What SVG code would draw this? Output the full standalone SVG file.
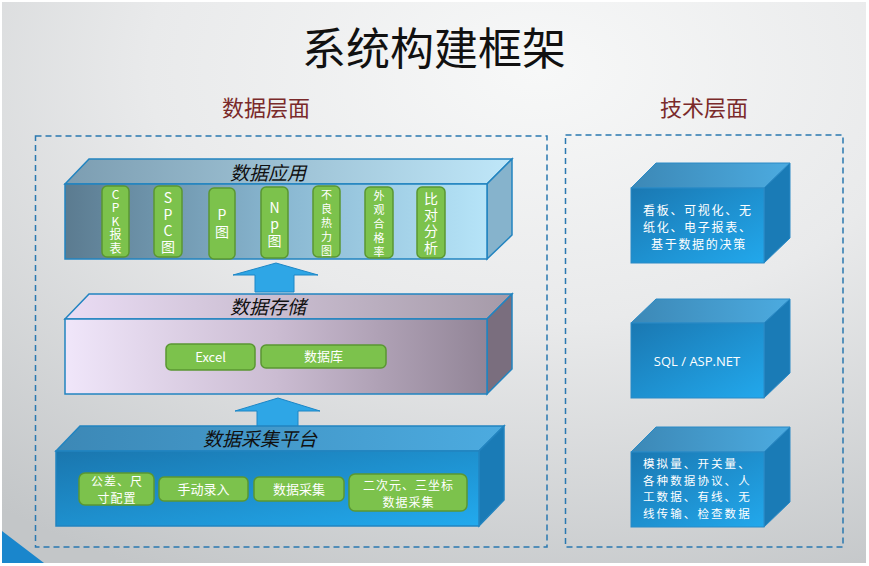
<svg xmlns="http://www.w3.org/2000/svg" width="869" height="566" viewBox="0 0 869 566">
<defs>
<radialGradient id="bg" cx="0.62" cy="0.12" r="1.0" fx="0.62" fy="0.12">
<stop offset="0" stop-color="#f7f8f8"/>
<stop offset="0.45" stop-color="#e9eaeb"/>
<stop offset="1" stop-color="#c3c6c8"/>
</radialGradient>
<linearGradient id="g1front" x1="0" y1="0" x2="1" y2="0">
<stop offset="0" stop-color="#5b7b90"/>
<stop offset="0.5" stop-color="#88b6d0"/>
<stop offset="1" stop-color="#b6e4f8"/>
</linearGradient>
<linearGradient id="g1top" x1="0" y1="0" x2="1" y2="0">
<stop offset="0" stop-color="#7c9db1"/>
<stop offset="1" stop-color="#bfe7f9"/>
</linearGradient>
<linearGradient id="g2front" x1="0" y1="0" x2="1" y2="0">
<stop offset="0" stop-color="#f0e6fa"/>
<stop offset="0.5" stop-color="#cbbcd2"/>
<stop offset="1" stop-color="#928597"/>
</linearGradient>
<linearGradient id="g2top" x1="0" y1="0" x2="1" y2="0">
<stop offset="0" stop-color="#eadcf4"/>
<stop offset="1" stop-color="#a59aa8"/>
</linearGradient>
<linearGradient id="g3front" x1="0" y1="0" x2="1" y2="1">
<stop offset="0" stop-color="#1a76ae"/>
<stop offset="1" stop-color="#22aaee"/>
</linearGradient>
<linearGradient id="g3top" x1="0" y1="0" x2="1" y2="0">
<stop offset="0" stop-color="#3c88b6"/>
<stop offset="1" stop-color="#4cabe0"/>
</linearGradient>
<linearGradient id="cfront" x1="0" y1="0" x2="1" y2="1">
<stop offset="0" stop-color="#1a78b2"/>
<stop offset="1" stop-color="#22a8ec"/>
</linearGradient>
</defs>
<style>
.dash{fill:none;stroke:#2a78b0;stroke-width:1.5;stroke-dasharray:6,4}
.edge{stroke:#2284c0;stroke-width:1.5}
.pill{fill:#7cc24c;stroke:#5a9732;stroke-width:1.5}
.pt{fill:#ffffff;font-family:"Noto Sans CJK SC","Noto Sans",sans-serif;text-anchor:middle}
.vt{fill:#ffffff;font-family:"Noto Sans CJK SC",sans-serif;text-anchor:middle;writing-mode:vertical-rl;text-orientation:upright}
.cap{fill:#111;font-family:"Noto Sans CJK SC",sans-serif;font-style:italic;font-size:19px;text-anchor:middle}
.head{fill:#7a2a2a;font-family:"Noto Sans CJK SC",sans-serif;font-size:22px;text-anchor:middle}
.ct{fill:#ffffff;font-family:"Noto Sans CJK SC",sans-serif;font-size:12px;letter-spacing:1.7px}
.arrow{fill:#2ea6e6;stroke:#1c86c6;stroke-width:1}
.cube{stroke:#2a8ac6;stroke-width:1}
</style>
<rect x="0" y="0" width="869" height="566" fill="#ffffff"/>
<rect x="2" y="2" width="864" height="561" fill="url(#bg)"/>
<polygon points="2,531 44,563 2,563" fill="#1a86cc"/>

<text x="434" y="65" font-family="Noto Sans CJK SC,serif" font-size="44" text-anchor="middle" fill="#111">系统构建框架</text>
<text class="head" x="266" y="116">数据层面</text>
<text class="head" x="704" y="116">技术层面</text>

<rect class="dash" x="35.5" y="136" width="511.5" height="411"/>
<rect class="dash" x="565.5" y="135" width="277.5" height="412"/>

<g id="connectors">
<polygon class="arrow" points="276,263 318,275 294,275 294,292 255,292 255,275 233,275"/>
<polygon class="arrow" points="278,398 320,411 298,411 298,428 257,428 257,411 235,411"/>
</g>

<g id="data-app">
<polygon points="65,184 89,159 512,159 487,184" fill="url(#g1top)" class="edge"/>
<polygon points="487,184 512,159 512,235 487,259" fill="#86b3cc" class="edge"/>
<rect x="65" y="184" width="422" height="75" fill="url(#g1front)" class="edge"/>
<text class="cap" x="268" y="180">数据应用</text>
</g>

<g id="pill-cpk"><rect class="pill" x="102" y="186" width="27" height="71" rx="5"/>
<text class="vt" x="115.5" y="222" font-size="12" letter-spacing="1.5">CPK报表</text></g>
<g id="pill-spc"><rect class="pill" x="154" y="186" width="28" height="71" rx="5"/>
<text class="vt" x="168" y="223.5" font-size="14" letter-spacing="2.3">SPC图</text></g>
<g id="pill-p"><rect class="pill" x="209" y="188" width="26" height="71" rx="5"/>
<text class="vt" x="222" y="225" font-size="14" letter-spacing="3">P图</text></g>
<g id="pill-np"><rect class="pill" x="261" y="187" width="27" height="71" rx="5"/>
<text class="vt" x="274.5" y="225" font-size="14" letter-spacing="2.5">Np图</text></g>
<g id="pill-heat"><rect class="pill" x="313" y="186" width="27" height="71" rx="5"/>
<text class="vt" x="326.5" y="224.5" font-size="11" letter-spacing="3">不良热力图</text></g>
<g id="pill-pass"><rect class="pill" x="365" y="187" width="28" height="71" rx="5"/>
<text class="vt" x="379" y="225.5" font-size="11" letter-spacing="3">外观合格率</text></g>
<g id="pill-cmp"><rect class="pill" x="417" y="187" width="28" height="71" rx="5"/>
<text class="vt" x="431" y="224" font-size="14" letter-spacing="2.3">比对分析</text></g>

<g id="data-store">
<polygon points="65,319 89,294 512,294 487,319" fill="url(#g2top)" class="edge"/>
<polygon points="487,319 512,294 512,369 487,394" fill="#7a6e7e" class="edge"/>
<rect x="65" y="319" width="422" height="75" fill="url(#g2front)" class="edge"/>
<text class="cap" x="268" y="314">数据存储</text>
</g>
<g id="pill-excel"><rect class="pill" x="166" y="344" width="89" height="26" rx="5"/>
<text class="pt" font-size="13" x="210.5" y="362">Excel</text></g>
<g id="pill-db"><rect class="pill" x="261" y="345" width="125" height="23" rx="5"/>
<text class="pt" font-size="13" x="323.5" y="361">数据库</text></g>

<g id="data-collect">
<polygon points="56,451 80,426 504,426 479,451" fill="url(#g3top)" class="edge"/>
<polygon points="479,451 504,426 504,500 479,526" fill="#1a7bb6" class="edge"/>
<rect x="56" y="451" width="423" height="75" fill="url(#g3front)" class="edge"/>
<text class="cap" x="260" y="446">数据采集平台</text>
</g>
<g id="pill-tol"><rect class="pill" x="79" y="473" width="75" height="32" rx="6"/>
<text class="pt" font-size="12" letter-spacing="1"><tspan x="117" y="486">公差、尺</tspan><tspan x="117" y="503">寸配置</tspan></text></g>
<g id="pill-manual"><rect class="pill" x="159" y="477" width="89" height="24" rx="5"/>
<text class="pt" font-size="13" x="203.5" y="494">手动录入</text></g>
<g id="pill-collect"><rect class="pill" x="254" y="477" width="90" height="24" rx="5"/>
<text class="pt" font-size="13" x="299" y="494">数据采集</text></g>
<g id="pill-2d3d"><rect class="pill" x="349" y="474" width="118" height="37" rx="6"/>
<text class="pt" font-size="12" letter-spacing="1"><tspan x="408.5" y="490">二次元、三坐标</tspan><tspan x="408.5" y="507">数据采集</tspan></text></g>

<g id="tech-app">
<polygon class="cube" points="631,188 656,163 790,163 764,188" fill="url(#g3top)"/>
<polygon class="cube" points="764,188 790,163 790,238 764,263" fill="#1a7bb6"/>
<rect class="cube" x="631" y="188" width="133" height="75" fill="url(#cfront)"/>
<text class="ct"><tspan x="643" y="214.5">看板、可视化、无</tspan><tspan x="643" y="231.5">纸化、电子报表、</tspan><tspan x="651" y="248.5">基于数据的决策</tspan></text>
</g>

<g id="tech-sql">
<polygon class="cube" points="631,323 656,299 790,299 764,323" fill="url(#g3top)"/>
<polygon class="cube" points="764,323 790,299 790,373 764,398" fill="#1a7bb6"/>
<rect class="cube" x="631" y="323" width="133" height="75" fill="url(#cfront)"/>
<text x="697" y="366" fill="#ffffff" font-family="Open Sans,sans-serif" font-size="13" text-anchor="middle">SQL / ASP.NET</text>
</g>

<g id="tech-collect">
<polygon class="cube" points="631,452 656,427 790,427 764,452" fill="url(#g3top)"/>
<polygon class="cube" points="764,452 790,427 790,502 764,527" fill="#1a7bb6"/>
<rect class="cube" x="631" y="452" width="133" height="75" fill="url(#cfront)"/>
<text class="ct" font-size="11.5" letter-spacing="2.1" style="font-size:11.5px;letter-spacing:2.1px"><tspan x="643" y="468">模拟量、开关量、</tspan><tspan x="643" y="484.5">各种数据协议、人</tspan><tspan x="643" y="501">工数据、有线、无</tspan><tspan x="643" y="517.5">线传输、检查数据</tspan></text>
</g>
</svg>
